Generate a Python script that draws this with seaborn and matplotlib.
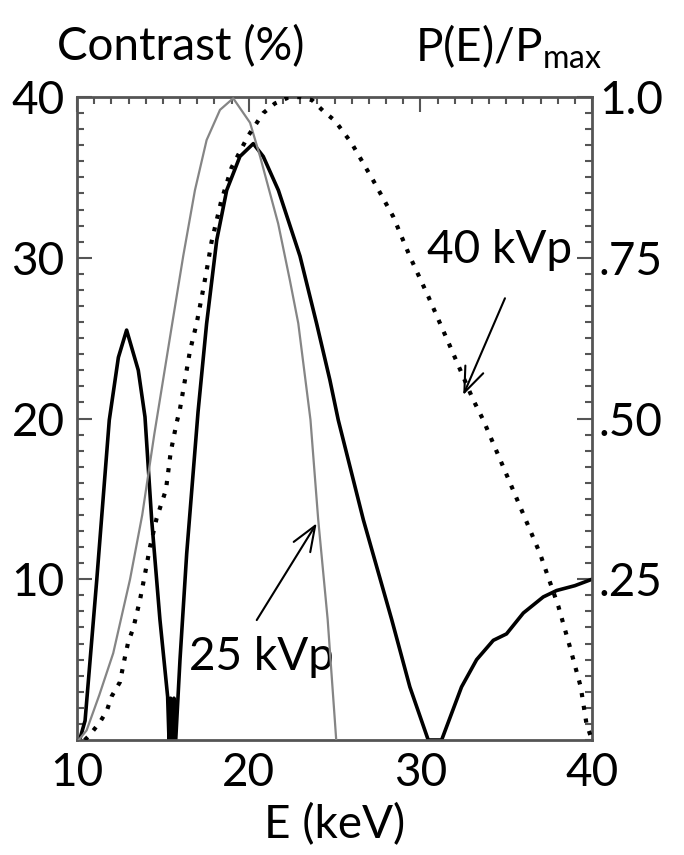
import numpy as np
import matplotlib
matplotlib.use("Agg")
import matplotlib.pyplot as plt
from matplotlib.ticker import MultipleLocator
import seaborn as sns

# Contrast (%) vs photon energy (thick black curve)
e_contrast = [10.15, 10.47, 11.15, 11.88, 12.41, 12.89, 13.57, 13.96, 14.35, 14.83,
              15.28, 15.36, 15.45, 15.55, 15.65, 15.75, 16.0, 16.39, 17.05, 17.55,
              18.14, 18.72, 19.49, 20.27, 20.85, 21.73, 22.99, 23.96, 24.73, 25.22,
              26.68, 28.33, 29.39, 30.46, 31.24, 32.4, 33.28, 34.25, 35.02, 36.0,
              37.16, 37.94, 39.0, 40.0]
contrast = [0, 1.2, 9.95, 19.9, 23.8, 25.5, 23.0, 20.1, 13.7, 7.5,
            2.7, 0, 2.6, 0, 2.6, 0, 5.0, 11.6, 20.4, 25.9,
            31.1, 34.2, 36.3, 37.1, 36.3, 34.2, 30.1, 25.9, 22.4, 19.9,
            13.7, 7.5, 3.3, 0, 0, 3.3, 5.0, 6.2, 6.6, 7.9,
            8.9, 9.3, 9.6, 10.0]

# 25 kVp spectrum, P(E)/Pmax (thin grey curve)
e_25 = [10.1, 10.56, 11.3, 12.11, 13.09, 13.8, 14.5, 15.5, 16.19, 16.87, 17.55,
        18.33, 19.1, 20.08, 20.66, 21.72, 22.4, 22.89, 23.6, 24.05, 24.6, 25.0, 25.1]
p_25 = [0, 0.015, 0.07, 0.135, 0.25, 0.35, 0.475, 0.64, 0.753, 0.855, 0.933,
        0.98, 0.998, 0.96, 0.908, 0.803, 0.715, 0.648, 0.498, 0.343, 0.188, 0.038, 0]

# 40 kVp spectrum, P(E)/Pmax (dotted curve)
e_40 = [10.45, 10.75, 11.34, 11.73, 12.02, 12.5, 12.8, 12.99, 13.28, 13.67,
        13.96, 14.25, 14.64, 15.18, 15.46, 15.8, 16.0, 16.29, 16.58, 16.97,
        17.26, 17.55, 17.84, 18.4, 19.0, 19.98, 20.85, 21.53, 22.3, 23.0,
        23.7, 24.35, 25.03, 26.0, 27.26, 28.42, 29.39, 30.46, 31.72, 33.08,
        33.66, 35.32, 36.97, 38.04, 38.71, 39.34, 39.68, 40.0]
p_40 = [0, 0.008, 0.028, 0.045, 0.068, 0.09, 0.13, 0.153, 0.174, 0.218,
        0.258, 0.3, 0.345, 0.389, 0.448, 0.493, 0.515, 0.56, 0.605, 0.648,
        0.688, 0.73, 0.775, 0.838, 0.89, 0.94, 0.975, 0.99, 0.999, 1.0,
        0.995, 0.978, 0.963, 0.928, 0.87, 0.814, 0.752, 0.69, 0.613, 0.529,
        0.498, 0.394, 0.29, 0.208, 0.145, 0.083, 0.025, 0]

x_ticks = [10, 20, 30, 40]
y_ticks = [10, 20, 30, 40]
p_ticks = [0.25, 0.5, 0.75, 1.0]
p_labels = [".25", ".50", ".75", "1.0"]

sns.set_theme(style="white")
plt.rcParams["font.family"] = ["Lato", "DejaVu Sans"]
plt.rcParams["mathtext.fontset"] = "custom"
plt.rcParams["mathtext.rm"] = "Lato"
plt.rcParams["mathtext.it"] = "Lato:italic"
plt.rcParams["text.color"] = "black"
plt.rcParams["xtick.labelcolor"] = "black"
plt.rcParams["ytick.labelcolor"] = "black"
plt.rcParams["axes.labelcolor"] = "black"

FS = 33
spine_col = "#555555"

fig = plt.figure(figsize=(6.84, 8.55), dpi=100)
ax = fig.add_axes([77 / 684, 1 - 740 / 855, (592 - 77) / 684, (740 - 97) / 855])
ax2 = ax.twinx()

# contrast curve on left axis
sns.lineplot(x=e_contrast, y=contrast, ax=ax, color="black", lw=2.6,
             sort=False, estimator=None)

# spectra on right axis
sns.lineplot(x=e_25, y=p_25, ax=ax2, color="#858585", lw=1.6,
             sort=False, estimator=None)
sns.lineplot(x=e_40, y=p_40, ax=ax2, color="black", lw=3.0,
             linestyle=(0, (1, 2.1)), sort=False, estimator=None)

ax.set_xlim(10, 40)
ax.set_ylim(0, 40)
ax2.set_ylim(0, 1)

ax.set_xticks(x_ticks)
ax.set_yticks(y_ticks)
ax.xaxis.set_minor_locator(MultipleLocator(1))
ax.yaxis.set_minor_locator(MultipleLocator(1))
ax.tick_params(which="both", direction="in", top=True, right=True,
               color=spine_col, width=1.5)
ax.tick_params(which="major", length=11)
ax.tick_params(which="minor", length=5)
ax.tick_params(axis="y", labelsize=FS, pad=9)
ax.tick_params(axis="x", labelsize=FS, pad=9)

ax2.set_yticks(p_ticks)
ax2.set_yticklabels(p_labels)
ax2.tick_params(axis="y", length=0, labelsize=FS, pad=5)

for s in ax.spines.values():
    s.set_color(spine_col)
    s.set_linewidth(2)
for s in ax2.spines.values():
    s.set_visible(False)

ax.set_xlabel("E (keV)", fontsize=FS, labelpad=6)
ax.set_ylabel("")
ax2.set_ylabel("")

fig.text(57 / 684, 1 - 47 / 855, "Contrast (%)", fontsize=FS, ha="left", va="center")
fig.text(415 / 684, 1 - 47 / 855, r"P(E)/P$_{\rm max}$", fontsize=FS, ha="left", va="center")

# annotations
ax.text(34.64, 29.67, "40 kVp", fontsize=FS, ha="center", va="baseline")
ax.annotate("", xy=(32.5, 21.46), xytext=(34.93, 27.48),
            arrowprops=dict(arrowstyle="->,head_length=0.9,head_width=0.35",
                            lw=1.5, color="black", shrinkA=0, shrinkB=0,
                            mutation_scale=20))
ax.text(20.75, 4.35, "25 kVp", fontsize=FS, ha="center", va="baseline")
ax.annotate("", xy=(23.96, 13.48), xytext=(20.47, 7.46),
            arrowprops=dict(arrowstyle="->,head_length=0.9,head_width=0.35",
                            lw=1.5, color="black", shrinkA=0, shrinkB=0,
                            mutation_scale=20))

fig.savefig("out.png", dpi=100)
